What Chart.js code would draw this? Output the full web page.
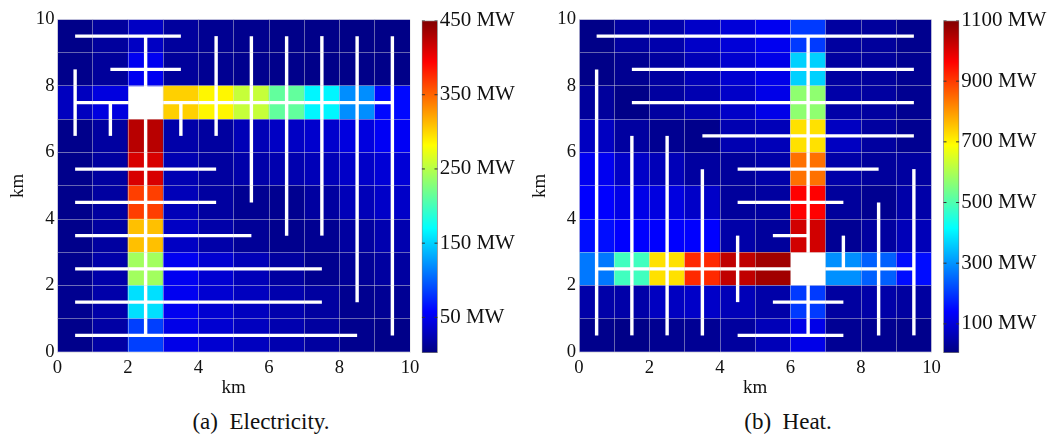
<!DOCTYPE html>
<html><head><meta charset="utf-8">
<style>
html,body{margin:0;padding:0;background:#fff;overflow:hidden}
canvas{position:absolute;top:0}
.cap{position:absolute;top:409px;font:23px "Liberation Serif",serif;color:#111;white-space:pre;transform:translateX(-50%)}
</style>
<script src="https://cdn.jsdelivr.net/npm/chart.js@4"></script>
</head><body>
<canvas id="c1" width="420" height="400" style="left:0;width:420px;height:400px"></canvas>
<canvas id="b1" width="110" height="400" style="left:415px;width:110px;height:400px"></canvas>
<canvas id="c2" width="420" height="400" style="left:522px;width:420px;height:400px"></canvas>
<canvas id="b2" width="110" height="400" style="left:937px;width:110px;height:400px"></canvas>
<div class="cap" style="left:261px">(a)  Electricity.</div>
<div class="cap" style="left:788px">(b)  Heat.</div>
<script>
const FONT='"Liberation Serif",serif', INK='#111';
// Each row runs x = 0..9 km; rows listed from y = 9 km (top) to y = 0 km. null = the source cell.
const elecCells=[
 [4,13,30,13,8,6,4,4,3,3],
 [5,12,50,12,8,6,5,4,4,4],
 [28,42,null,302,285,256,212,165,119,60],
 [5,14,425,18,14,24,30,34,42,52],
 [5,14,411,22,14,18,21,25,32,38],
 [5,14,366,25,14,8,7,14,25,32],
 [5,14,309,30,18,10,6,8,14,21],
 [6,18,240,50,36,25,14,7,10,14],
 [7,18,155,50,36,28,20,14,7,9],
 [5,16,84,46,36,28,21,14,6,4]];
const heatCells=[
 [9,35,48,78,95,121,200,35,30,15],
 [9,18,35,61,87,113,363,35,30,18],
 [30,9,35,53,78,113,567,43,35,18],
 [70,35,18,13,53,61,720,70,35,18],
 [121,78,61,35,30,43,841,43,30,35],
 [137,113,104,78,30,35,962,30,18,43],
 [152,137,137,137,43,30,1012,22,35,61],
 [267,481,720,918,1031,1064,null,293,241,150],
 [43,43,70,78,61,43,200,35,43,35],
 [13,9,18,22,32,61,113,22,18,13]];
// Pipes: [x0,y0,x1,y1] in km
const elecPipes=[[.5,9.5,3.5,9.5],[1.5,8.5,3.5,8.5],[.5,7.5,9.5,7.5],[.5,5.5,4.5,5.5],[.5,4.5,4.5,4.5],[.5,3.5,5.5,3.5],[.5,2.5,7.5,2.5],[.5,1.5,7.5,1.5],[.5,.5,8.5,.5],
 [2.5,.5,2.5,9.5],[.5,6.5,.5,8.5],[1.5,6.5,1.5,7.5],[3.5,6.5,3.5,7.5],[4.5,6.5,4.5,9.5],[5.5,4.5,5.5,9.5],[6.5,3.5,6.5,9.5],[7.5,3.5,7.5,9.5],[8.5,1.5,8.5,9.5],[9.5,.5,9.5,9.5]];
const heatPipes=[[.5,9.5,9.5,9.5],[1.5,8.5,9.5,8.5],[1.5,7.5,9.5,7.5],[3.5,6.5,9.5,6.5],[4.5,5.5,8.5,5.5],[4.5,4.5,7.5,4.5],[5.5,3.5,6.5,3.5],[.5,2.5,9.5,2.5],[5.5,1.5,7.5,1.5],[4.5,.5,7.5,.5],
 [6.5,.5,6.5,9.5],[.5,.5,.5,8.5],[1.5,.5,1.5,6.5],[2.5,.5,2.5,6.5],[3.5,.5,3.5,5.5],[4.5,1.5,4.5,3.5],[7.5,2.5,7.5,3.5],[8.5,.5,8.5,4.5],[9.5,.5,9.5,5.5]];
const elecTicks=[50,150,250,350,450], heatTicks=[100,300,500,700,900,1100];
const elecRange=[2,450], heatRange=[4,1100];
const jetStops=[[0,[0,0,128]],[.125,[0,0,255]],[.375,[0,255,255]],[.625,[255,255,0]],[.875,[255,0,0]],[1,[128,0,0]]];

function jet(t){
  t=Math.max(0,Math.min(1,t));
  for(let i=1;i<jetStops.length;i++){
    const [a,ca]=jetStops[i-1],[b,cb]=jetStops[i];
    if(t<=b){const f=(t-a)/(b-a);return `rgb(${ca.map((c,k)=>Math.round(c+(cb[k]-c)*f)).join(',')})`;}
  }
}
const noPad=s=>{s.paddingLeft=s.paddingRight=s.paddingTop=s.paddingBottom=0};
function heatPanel(id,cells,pipes,range,yWidth,padRight){
  const pts=[],cols=[];
  cells.forEach((row,r)=>row.forEach((v,c)=>{
    if(v===null)return;
    const y=9-r;
    pts.push({x:c+.5,y:[y,y+1]});cols.push(jet(v/range[1]));
  }));
  const axis=(title,extra)=>Object.assign({
    type:'linear',min:0,max:10,offset:false,
    grid:{offset:false,color:'rgba(225,225,225,.45)',lineWidth:1,z:1,drawTicks:false},
    border:{color:'rgba(225,225,225,.45)',z:1},
    ticks:{stepSize:1,autoSkip:false,maxRotation:0,color:INK,font:{family:FONT,size:18.7},
      callback:v=>v%2===0?String(v):''},
    title:{display:true,text:title,color:INK,font:{family:FONT,size:19}}
  },extra);
  const datasets=[{type:'bar',data:pts,backgroundColor:cols,borderWidth:0,order:2,
    barPercentage:1,categoryPercentage:1,grouped:false}];
  pipes.forEach(p=>datasets.push({type:'line',data:[{x:p[0],y:p[1]},{x:p[2],y:p[3]}],
    borderColor:'#fff',borderWidth:3.4,pointRadius:0,order:1,tension:0,clip:false}));
  const xa=axis('km',{afterFit:s=>{s.height=48;noPad(s)}});
  xa.ticks.padding=5;xa.title.padding={top:0,bottom:.6};
  const ya=axis('km',{afterFit:s=>{s.width=yWidth;noPad(s)}});
  ya.ticks.padding=3;ya.title.padding={top:7,bottom:0};
  return new Chart(document.getElementById(id),{type:'bar',data:{datasets},options:{
    responsive:false,animation:false,events:[],
    layout:{autoPadding:false,padding:{left:0,top:19.5,right:padRight,bottom:0}},
    plugins:{legend:{display:false},tooltip:{enabled:false}},
    scales:{x:xa,y:ya}}});
}
function colorBar(id,ticks,range,padLeft){
  const datasets=[{type:'bar',data:[{x:.5,y:range}],order:2,barThickness:16,borderWidth:1,borderColor:'#777',borderSkipped:false,
    backgroundColor:c=>{
      const a=c.chart.chartArea; if(!a)return '#000';
      const g=c.chart.ctx.createLinearGradient(0,a.bottom,0,a.top);
      jetStops.forEach(([t,rgb])=>g.addColorStop(t,`rgb(${rgb.join(',')})`));
      return g;}}];
  ticks.forEach(v=>{
    [[0,.2],[.8,1]].forEach(([a,b])=>datasets.push({type:'line',data:[{x:a,y:v},{x:b,y:v}],
      borderColor:'#333',borderWidth:1,pointRadius:0,order:1}));
  });
  new Chart(document.getElementById(id),{type:'bar',data:{datasets},options:{
    responsive:false,animation:false,events:[],
    layout:{autoPadding:false,padding:{left:padLeft,top:20.5,right:0,bottom:47}},
    plugins:{legend:{display:false},tooltip:{enabled:false}},
    scales:{
      x:{type:'linear',min:0,max:1,display:false,offset:false},
      y:{type:'linear',position:'right',min:range[0],max:range[1],
        afterFit:s=>{s.width=110-padLeft-16;noPad(s)},
        afterBuildTicks:s=>{s.ticks=ticks.map(v=>({value:v}))},
        grid:{display:false,drawTicks:false},border:{display:false},
        ticks:{padding:2,color:INK,autoSkip:false,font:{family:FONT,size:21},callback:v=>v+' MW'}}
    }}});
}
heatPanel('c1',elecCells,elecPipes,elecRange,57.5,10);
colorBar('b1',elecTicks,elecRange,6.7);
heatPanel('c2',heatCells,heatPipes,heatRange,57,10.5);
colorBar('b2',heatTicks,heatRange,6.3);
</script>
</body></html>
